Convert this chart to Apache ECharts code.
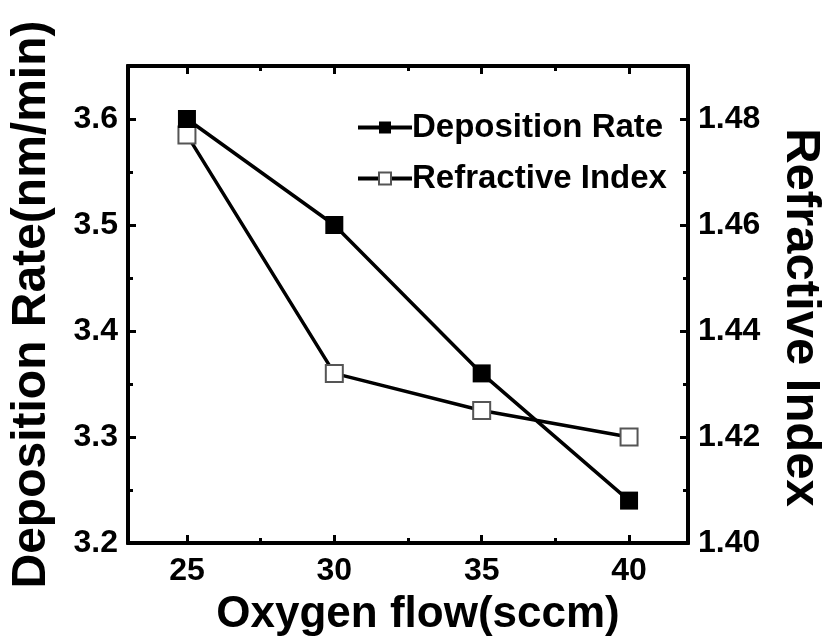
<!DOCTYPE html>
<html>
<head>
<meta charset="utf-8">
<script src="https://cdn.jsdelivr.net/npm/echarts@6/dist/echarts.min.js"></script>
<style>
html,body{margin:0;padding:0;background:#fff;}
#chart{width:825px;height:641px;}
</style>
</head>
<body>
<div id="chart"></div>
<script>
// ---- data ----
const oxygenFlow = [25, 30, 35, 40];
const depositionRate = [3.60, 3.50, 3.36, 3.24];
const refractiveIndex = [1.477, 1.432, 1.425, 1.420];

const xMajorTicks = [25, 30, 35, 40];
const xMinorTicks = [27.5, 32.5, 37.5];
const leftMajorTicks = [3.2, 3.3, 3.4, 3.5, 3.6];
const leftMinorTicks = [3.25, 3.35, 3.45, 3.55];
const rightMajorTicks = [1.40, 1.42, 1.44, 1.46, 1.48];
const rightMinorTicks = [1.41, 1.43, 1.45, 1.47];

const seriesNames = ['Deposition Rate', 'Refractive Index'];
const xTitle = 'Oxygen flow(sccm)';
const leftTitle = 'Deposition Rate(nm/min)';
const rightTitle = 'Refractive Index';

// ---- chart ----
const FONT = '"Liberation Sans", Arial, sans-serif';
const axisLineStyle = {color: '#000', width: 4};
const labelStyle = {fontFamily: FONT, fontWeight: 'bold', fontSize: 32, color: '#000'};
const nameStyle = (size, pad) => ({fontFamily: FONT, fontWeight: 'bold', fontSize: size, color: '#000', padding: pad});

function xAxisDef(pos, ticks, len, withLabel) {
  const ax = {
    type: 'value', position: pos, min: 23, max: 42,
    axisLine: {show: true, onZero: false, lineStyle: axisLineStyle},
    axisTick: {show: true, inside: true, length: len, customValues: ticks, lineStyle: {color: '#000', width: 3}},
    axisLabel: withLabel ? Object.assign({customValues: ticks, margin: 12}, labelStyle) : {show: false},
    splitLine: {show: false}
  };
  if (withLabel) {
    ax.name = xTitle; ax.nameLocation = 'middle'; ax.nameGap = 50;
    ax.nameTextStyle = nameStyle(44, [0, 0, 0, 20]);
  }
  return ax;
}
function yAxisDef(pos, min, max, ticks, len, withLabel, fmt) {
  return {
    type: 'value', position: pos, min: min, max: max,
    axisLine: {show: true, onZero: false, lineStyle: axisLineStyle},
    axisTick: {show: true, inside: true, length: len, customValues: ticks, lineStyle: {color: '#000', width: 3}},
    axisLabel: withLabel ? Object.assign({customValues: ticks, margin: 10, formatter: fmt}, labelStyle) : {show: false},
    splitLine: {show: false}
  };
}

const yLeft = yAxisDef('left', 3.2, 3.65, leftMajorTicks, 8, true, v => v.toFixed(1));
yLeft.name = leftTitle; yLeft.nameLocation = 'middle'; yLeft.nameGap = 72;
yLeft.nameTextStyle = nameStyle(48, 0);
const yRight = yAxisDef('right', 1.40, 1.49, rightMajorTicks, 8, true, v => v.toFixed(2));
yRight.name = rightTitle; yRight.nameLocation = 'middle'; yRight.nameGap = 88; yRight.nameRotate = -90;
yRight.nameTextStyle = nameStyle(49, [0, 0, 0, 26]);

const chart = echarts.init(document.getElementById('chart'), null, {renderer: 'canvas'});
chart.setOption({
  backgroundColor: '#fff',
  animation: false,
  grid: {left: 128, right: 137, top: 66, bottom: 98, containLabel: false, outerBoundsMode: 'none'},
  xAxis: [
    xAxisDef('bottom', xMajorTicks, 8, true),
    xAxisDef('bottom', xMinorTicks, 5, false),
    xAxisDef('top', xMajorTicks, 8, false),
    xAxisDef('top', xMinorTicks, 5, false)
  ],
  yAxis: [
    yLeft,
    yAxisDef('left', 3.2, 3.65, leftMinorTicks, 5, false),
    yRight,
    yAxisDef('right', 1.40, 1.49, rightMinorTicks, 5, false)
  ],
  legend: {
    orient: 'vertical', left: 351, top: 106, itemWidth: 54, itemHeight: 15, itemGap: 18,
    align: 'left',
    lineStyle: {width: 4},
    textStyle: {fontFamily: FONT, fontWeight: 'bold', fontSize: 33, color: '#000', padding: [0,0,0,-5]},
    data: seriesNames
  },
  series: [
    {
      name: seriesNames[1], type: 'line', xAxisIndex: 0, yAxisIndex: 2,
      data: oxygenFlow.map((x, i) => [x, refractiveIndex[i]]),
      symbol: 'rect', symbolSize: 17,
      lineStyle: {color: '#000', width: 3.5},
      itemStyle: {color: '#fff', borderColor: '#555', borderWidth: 2},
      z: 2
    },
    {
      name: seriesNames[0], type: 'line', xAxisIndex: 0, yAxisIndex: 0,
      data: oxygenFlow.map((x, i) => [x, depositionRate[i]]),
      symbol: 'rect', symbolSize: 18,
      lineStyle: {color: '#000', width: 3.5},
      itemStyle: {color: '#000', borderColor: '#000', borderWidth: 0},
      z: 3
    }
  ]
});
</script>
</body>
</html>
